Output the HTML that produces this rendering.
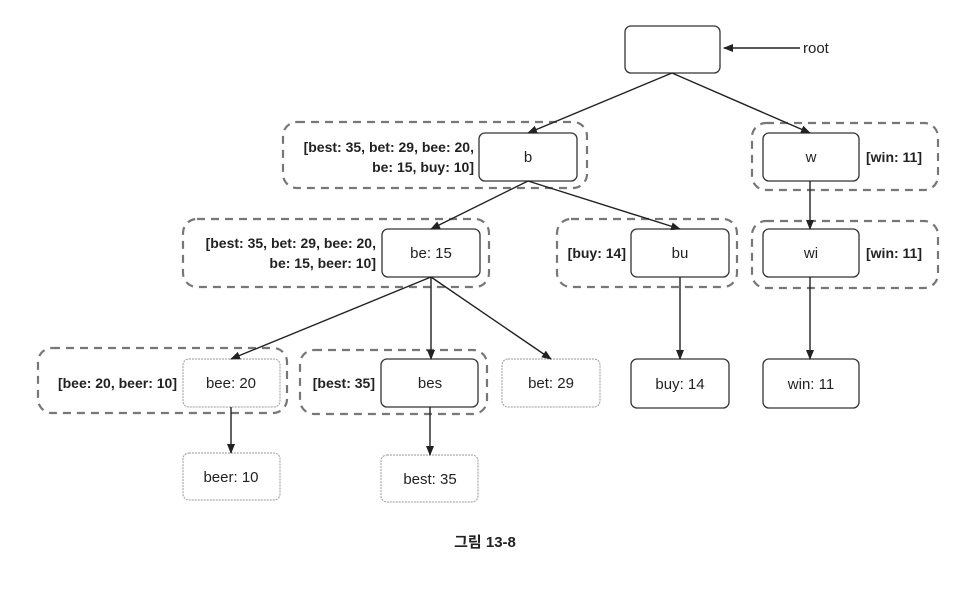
<!DOCTYPE html>
<html><head><meta charset="utf-8"><style>
body{margin:0;background:#fff}
text{font-family:"Liberation Sans","Noto Sans CJK KR",sans-serif;fill:#222}
.b{font-weight:bold;font-size:14px}
.n{font-size:15px}
</style></head><body>
<svg width="970" height="590" viewBox="0 0 970 590" xmlns="http://www.w3.org/2000/svg">
<defs><marker id="a" markerWidth="10" markerHeight="8" refX="9" refY="4" orient="auto" markerUnits="userSpaceOnUse"><path d="M0,0 L10,4 L0,8z" fill="#222"/></marker></defs>
<g fill="none" stroke="#777" stroke-width="2.2" stroke-dasharray="8,6">
<rect x="283" y="122" width="304" height="66" rx="14"/>
<rect x="752" y="123" width="186" height="67" rx="14"/>
<rect x="183" y="219" width="306" height="68" rx="14"/>
<rect x="557" y="219" width="180" height="68" rx="14"/>
<rect x="752" y="221" width="186" height="67" rx="14"/>
<rect x="38" y="348" width="249" height="65" rx="14"/>
<rect x="300" y="350" width="187" height="64" rx="14"/>
</g>
<g fill="#fff" stroke="#333" stroke-width="1.3">
<rect x="625" y="26" width="95" height="47" rx="6"/>
<rect x="479" y="133" width="98" height="48" rx="6"/>
<rect x="763" y="133" width="96" height="48" rx="6"/>
<rect x="382" y="229" width="98" height="48" rx="6"/>
<rect x="631" y="229" width="98" height="48" rx="6"/>
<rect x="763" y="229" width="96" height="48" rx="6"/>
<rect x="381" y="359" width="97" height="48" rx="6"/>
<rect x="631" y="359" width="98" height="49" rx="6"/>
<rect x="763" y="359" width="96" height="49" rx="6"/>
</g>
<g fill="#fff" stroke="#999" stroke-width="1" stroke-dasharray="2,1">
<rect x="183" y="359" width="97" height="48" rx="6"/>
<rect x="502" y="359" width="98" height="48" rx="6"/>
<rect x="183" y="453" width="97" height="47" rx="6"/>
<rect x="381" y="455" width="97" height="47" rx="6"/>
</g>
<g stroke="#222" stroke-width="1.4" marker-end="url(#a)">
<line x1="800" y1="48" x2="724" y2="48"/>
<line x1="672" y1="73" x2="528" y2="133"/>
<line x1="672" y1="73" x2="810" y2="133"/>
<line x1="528" y1="181" x2="431" y2="229"/>
<line x1="528" y1="181" x2="680" y2="229"/>
<line x1="810" y1="181" x2="810" y2="229"/>
<line x1="431" y1="277" x2="231" y2="359"/>
<line x1="431" y1="277" x2="431" y2="359"/>
<line x1="431" y1="277" x2="551" y2="359"/>
<line x1="680" y1="277" x2="680" y2="359"/>
<line x1="810" y1="277" x2="810" y2="359"/>
<line x1="231" y1="407" x2="231" y2="453"/>
<line x1="430" y1="407" x2="430" y2="455"/>
</g>
<text class="n" x="803" y="53">root</text>
<g class="n" text-anchor="middle">
<text x="528" y="162">b</text>
<text x="811" y="162">w</text>
<text x="431" y="258">be: 15</text>
<text x="680" y="258">bu</text>
<text x="811" y="258">wi</text>
<text x="231" y="388">bee: 20</text>
<text x="430" y="388">bes</text>
<text x="551" y="388">bet: 29</text>
<text x="680" y="389">buy: 14</text>
<text x="811" y="389">win: 11</text>
<text x="231" y="482">beer: 10</text>
<text x="430" y="484">best: 35</text>
</g>
<g class="b" text-anchor="end">
<text x="474" y="152">[best: 35, bet: 29, bee: 20,</text>
<text x="474" y="172">be: 15, buy: 10]</text>
<text x="376" y="248">[best: 35, bet: 29, bee: 20,</text>
<text x="376" y="268">be: 15, beer: 10]</text>
<text x="177" y="388">[bee: 20, beer: 10]</text>
<text x="375" y="388">[best: 35]</text>
<text x="626" y="258">[buy: 14]</text>
</g>
<text class="b" x="866" y="162">[win: 11]</text>
<text class="b" x="866" y="258">[win: 11]</text>
<text x="485" y="547" text-anchor="middle" style="font-weight:bold;font-size:15px">그림 13-8</text>
</svg>
</body></html>
